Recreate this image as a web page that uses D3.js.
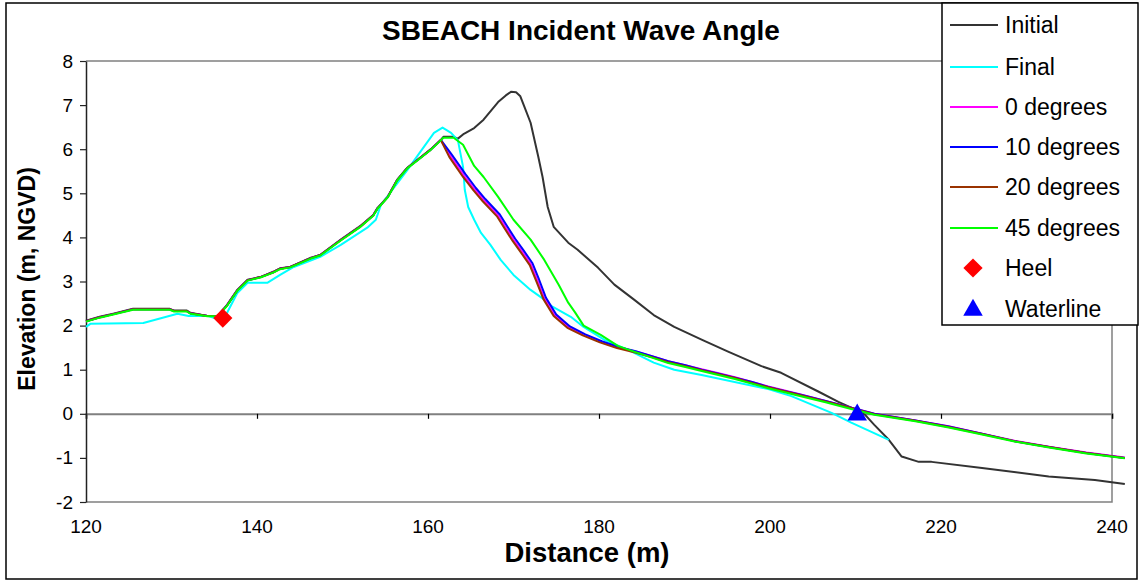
<!DOCTYPE html>
<html>
<head>
<meta charset="utf-8">
<script src="https://cdn.jsdelivr.net/npm/d3@7/dist/d3.min.js"></script>
<style>
  html, body { margin: 0; padding: 0; background: #fff; }
  svg { display: block; font-family: "Liberation Sans", Arial, sans-serif; }
</style>
</head>
<body>
<svg id="chart" width="1139" height="581"></svg>
<script>
// Profile data: [distance (m), elevation (m, NGVD)]
const initialProfile = [
  [120,2.11],[121.6,2.2],[123.2,2.27],[125.5,2.38],[129.8,2.38],[130.3,2.34],[131.8,2.34],
  [132.2,2.29],[134.2,2.22],[135.4,2.22],[136.5,2.47],[137.7,2.81],[138.9,3.04],[140.4,3.1],
  [141.9,3.22],[142.7,3.3],[143.9,3.33],[146.3,3.54],[147.4,3.6],[149.8,3.95],[152.1,4.26],
  [153.6,4.51],[154.1,4.67],[155.3,4.92],[156.4,5.31],[157.6,5.58],[158.8,5.76],[160.3,5.99],
  [161.5,6.21],[161.8,6.28],[163.0,6.28],[163.5,6.24],[164.2,6.35],[165.4,6.48],[166.5,6.67],
  [168.2,7.07],[169.1,7.22],[169.7,7.3],[170.3,7.29],[170.8,7.2],[171.2,7.0],[172.0,6.6],[172.9,5.83],[173.4,5.37],
  [174.0,4.69],[174.7,4.24],[176.4,3.88],[177.5,3.72],[179.9,3.31],[181.8,2.93],[184.1,2.59],
  [186.4,2.24],[188.8,1.97],[192.0,1.68],[195.1,1.41],[199.0,1.08],[201.3,0.93],[205.7,0.5],
  [208.0,0.27],[209.5,0.14],[211.1,-0.02],[212.2,-0.25],[213.9,-0.59],[215.4,-0.97],
  [217.4,-1.09],[218.9,-1.09],[224.8,-1.23],[232.6,-1.42],[238.0,-1.5],[241.5,-1.59]
];

const finalProfile = [
  [120,1.97],[120.5,2.04],[126.7,2.06],[130.7,2.27],[132.0,2.22],[134.2,2.22],[135.4,2.15],
  [136.5,2.29],[137.7,2.74],[138.9,2.97],[141.2,2.97],[142.7,3.15],[144.3,3.33],[147.4,3.56],
  [149.8,3.83],[152.9,4.22],[153.9,4.4],[154.5,4.74],[156.0,5.12],[157.6,5.53],[159.1,5.94],
  [160.7,6.37],[161.7,6.49],[162.7,6.37],[163.5,6.2],[164.1,5.6],[164.3,5.08],[164.7,4.69],
  [165.4,4.4],[166.2,4.1],[167.3,3.83],[168.5,3.49],[170.0,3.15],[172.0,2.81],[173.6,2.59],
  [174.4,2.45],[176.7,2.2],[178.2,1.97],[180.6,1.68],[183.4,1.45],[186.4,1.16],[188.8,1.0],
  [192.0,0.88],[199.8,0.56],[202.5,0.4],[207.2,0.02],[209.5,-0.2],[213.9,-0.59]
];

const deg0Profile = [
  [120,2.1],[121.6,2.19],[123.2,2.26],[125.5,2.37],[129.8,2.37],[130.3,2.33],[131.8,2.33],
  [132.2,2.28],[134.2,2.22],[135.4,2.22],[136.5,2.46],[137.7,2.8],[138.9,3.03],[140.4,3.1],
  [141.9,3.21],[142.7,3.29],[143.9,3.33],[146.3,3.53],[147.4,3.6],[149.8,3.94],[152.1,4.25],
  [153.6,4.5],[154.1,4.66],[155.3,4.92],[156.4,5.3],[157.6,5.58],[158.8,5.76],[160.3,5.99],
  [161.5,6.21],[162.6,5.85],[164.2,5.4],[165.4,5.1],[166.5,4.85],[168.2,4.5],[169.1,4.22],
  [170.0,3.95],[171.0,3.68],[172.0,3.4],[172.8,3.02],[173.6,2.62],[174.8,2.24],[176.4,1.97],
  [178.2,1.8],[180.2,1.63],[182.2,1.51],[184.1,1.42],[186.1,1.31],[188.1,1.19],[190.1,1.1],
  [192.0,1.01],[194.0,0.92],[195.9,0.83],[197.9,0.72],[199.8,0.62],[201.7,0.53],[203.6,0.44],
  [206.5,0.29],[209.5,0.14],[212.2,0.0],[217.0,-0.15],[220.9,-0.28],[224.8,-0.45],
  [228.6,-0.61],[232.8,-0.75],[237.0,-0.88],[241.5,-0.99]
];

const deg10Profile = [
  [120,2.1],[121.6,2.19],[123.2,2.26],[125.5,2.37],[129.8,2.37],[130.3,2.33],[131.8,2.33],
  [132.2,2.28],[134.2,2.22],[135.4,2.22],[136.5,2.46],[137.7,2.8],[138.9,3.03],[140.4,3.1],
  [141.9,3.21],[142.7,3.29],[143.9,3.33],[146.3,3.53],[147.4,3.6],[149.8,3.94],[152.1,4.25],
  [153.6,4.5],[154.1,4.66],[155.3,4.92],[156.4,5.3],[157.6,5.58],[158.8,5.76],[160.3,5.99],
  [161.5,6.21],[162.8,5.87],[164.4,5.43],[165.6,5.12],[166.7,4.87],[168.4,4.52],[169.3,4.24],
  [170.2,3.97],[171.2,3.7],[172.2,3.42],[173.0,3.04],[173.8,2.63],[175.0,2.25],[176.6,1.98],
  [178.4,1.8],[180.4,1.64],[182.4,1.51],[184.3,1.42],[186.1,1.31],[188.1,1.19],[190.1,1.1],
  [192.0,1.0],[194.0,0.91],[195.9,0.82],[197.9,0.72],[199.8,0.61],[201.7,0.52],[203.6,0.43],
  [206.5,0.29],[209.5,0.14],[212.2,0.0],[217.0,-0.15],[220.9,-0.29],[224.8,-0.45],
  [228.6,-0.62],[232.8,-0.76],[237.0,-0.89],[241.5,-1.0]
];

const deg20Profile = [
  [120,2.1],[121.6,2.19],[123.2,2.26],[125.5,2.37],[129.8,2.37],[130.3,2.33],[131.8,2.33],
  [132.2,2.28],[134.2,2.22],[135.4,2.22],[136.5,2.46],[137.7,2.8],[138.9,3.03],[140.4,3.1],
  [141.9,3.21],[142.7,3.29],[143.9,3.33],[146.3,3.53],[147.4,3.6],[149.8,3.94],[152.1,4.25],
  [153.6,4.5],[154.1,4.66],[155.3,4.92],[156.4,5.3],[157.6,5.58],[158.8,5.76],[160.3,5.99],
  [161.5,6.21],[162.5,5.82],[164.1,5.37],[165.3,5.07],[166.4,4.82],[168.1,4.47],[169.0,4.19],
  [169.9,3.92],[170.9,3.65],[171.9,3.37],[172.7,2.99],[173.5,2.6],[174.7,2.22],[176.3,1.95],
  [178.1,1.78],[180.1,1.62],[182.1,1.49],[184.0,1.4],[186.1,1.29],[188.1,1.17],[190.1,1.08],
  [192.0,0.99],[194.0,0.9],[195.9,0.81],[197.9,0.7],[199.8,0.6],[201.7,0.51],[203.6,0.42],
  [206.5,0.28],[209.5,0.13],[212.2,-0.01],[217.0,-0.16],[220.9,-0.3],[224.8,-0.46],
  [228.6,-0.62],[232.8,-0.76],[237.0,-0.89],[241.5,-1.0]
];

const deg45Profile = [
  [120,2.09],[121.6,2.18],[123.2,2.25],[125.5,2.36],[129.8,2.36],[130.3,2.32],[131.8,2.32],
  [132.2,2.27],[134.2,2.21],[135.4,2.21],[136.5,2.45],[137.7,2.79],[138.9,3.02],[140.4,3.09],
  [141.9,3.2],[142.7,3.28],[143.9,3.32],[146.3,3.52],[147.4,3.59],[149.8,3.93],[152.1,4.24],
  [153.6,4.49],[154.1,4.65],[155.3,4.91],[156.4,5.29],[157.6,5.57],[158.8,5.75],[160.3,5.98],
  [161.5,6.2],[161.8,6.26],[163.0,6.26],[164.1,6.1],[165.4,5.62],[166.5,5.37],[168.2,4.92],
  [170.0,4.4],[172.0,3.95],[173.6,3.49],[175.3,2.92],[176.4,2.52],[177.2,2.3],[178.2,2.0],
  [180.2,1.79],[182.2,1.54],[184.1,1.41],[186.1,1.28],[188.1,1.15],[190.1,1.06],[192.0,0.97],
  [195.9,0.79],[199.8,0.58],[203.6,0.4],[206.5,0.26],[209.5,0.11],[212.2,-0.02],[217.0,-0.17],
  [220.9,-0.31],[224.8,-0.47],[228.6,-0.63],[232.8,-0.77],[237.0,-0.9],[241.5,-1.01]
];

const heelPoint = [[136.0, 2.17]];
const waterlinePoint = [[210.2, 0.0]];

const xTicks = [120, 140, 160, 180, 200, 220, 240];
const yTicks = [-2, -1, 0, 1, 2, 3, 4, 5, 6, 7, 8];

const seriesNames = ["Initial", "Final", "0 degrees", "10 degrees", "20 degrees", "45 degrees"];
const seriesColors = ["#333333", "#00FFFF", "#FF00FF", "#0000FF", "#993300", "#00FF00"];
const seriesData = [initialProfile, finalProfile, deg0Profile, deg10Profile, deg20Profile, deg45Profile];

const svg = d3.select("#chart");
const W = 1139, H = 581;
const plot = { left: 86, right: 1112, top: 61, bottom: 502 };

svg.append("rect").attr("width", W).attr("height", H).attr("fill", "#fff");
// outer chart frame
svg.append("rect").attr("x", 6).attr("y", 3).attr("width", 1131).attr("height", 576)
  .attr("fill", "none").attr("stroke", "#000").attr("stroke-width", 1.5);

const x = d3.scaleLinear().domain([120, 240]).range([plot.left, plot.right]);
const y = d3.scaleLinear().domain([-2, 8]).range([plot.bottom, plot.top]);

// plot area frame (top, right, bottom)
svg.append("path")
  .attr("d", `M${plot.left},${plot.top}H${plot.right}V${plot.bottom}H${plot.left}`)
  .attr("fill", "none").attr("stroke", "#808080").attr("stroke-width", 1.5);

// horizontal axis running along zero elevation
const xAxisG = svg.append("g").attr("transform", `translate(0,${y(0)})`)
  .call(d3.axisBottom(x).tickValues(xTicks).tickSize(5).tickFormat(""));
xAxisG.select(".domain").attr("stroke", "#808080").attr("stroke-width", 2);
xAxisG.selectAll(".tick line").attr("stroke", "#000").attr("stroke-width", 1.2);

// distance labels below the plot area
svg.append("g").selectAll("text").data(xTicks).join("text")
  .attr("x", d => x(d)).attr("y", 533)
  .attr("text-anchor", "middle").attr("font-size", 19).attr("fill", "#000")
  .text(d => String(d));

// vertical axis
const yAxisG = svg.append("g").attr("transform", `translate(${plot.left},0)`)
  .call(d3.axisLeft(y).tickValues(yTicks).tickSize(6).tickPadding(7).tickSizeOuter(0)
    .tickFormat(d => String(d)));
yAxisG.select(".domain").attr("stroke", "#222").attr("stroke-width", 1.5);
yAxisG.selectAll(".tick line").attr("stroke", "#222").attr("stroke-width", 1.2);
yAxisG.selectAll(".tick text").attr("font-size", 19).attr("fill", "#000")
  .attr("font-family", "'Liberation Sans', Arial, sans-serif");

// profile lines
const line = d3.line().x(d => x(d[0])).y(d => y(d[1]));
svg.append("g").selectAll("path").data(seriesData).join("path")
  .attr("d", line)
  .attr("fill", "none")
  .attr("stroke", (d, i) => seriesColors[i])
  .attr("stroke-width", 2)
  .attr("stroke-linejoin", "round");

// markers
const diamond = d3.symbol().type(d3.symbolSquare).size(185);
const triangle = d3.symbol().type(d3.symbolTriangle).size(165);

svg.append("g").selectAll("path").data(heelPoint).join("path")
  .attr("d", diamond)
  .attr("transform", d => `translate(${x(d[0])},${y(d[1])}) rotate(45)`)
  .attr("fill", "#FF0000");
svg.append("g").selectAll("path").data(waterlinePoint).join("path")
  .attr("d", triangle)
  .attr("transform", d => `translate(${x(d[0])},${y(d[1]) + 1})`)
  .attr("fill", "#0000FF");

// titles
svg.append("text").attr("x", 581).attr("y", 40).attr("text-anchor", "middle")
  .attr("font-size", 28).attr("font-weight", "bold").text("SBEACH Incident Wave Angle");
svg.append("text").attr("x", 587).attr("y", 562).attr("text-anchor", "middle")
  .attr("font-size", 27.5).attr("font-weight", "bold").text("Distance (m)");
svg.append("text").attr("transform", "translate(35,279) rotate(-90)")
  .attr("text-anchor", "middle")
  .attr("font-size", 23).attr("font-weight", "bold").text("Elevation (m, NGVD)");

// legend
const legend = svg.append("g");
legend.append("rect").attr("x", 942).attr("y", 3).attr("width", 196).attr("height", 322)
  .attr("fill", "#fff").attr("stroke", "#000").attr("stroke-width", 1.5);
const legendY = [25, 67, 107, 147, 187, 228, 268, 309];
const lineItems = legend.selectAll("g.item").data(seriesNames).join("g").attr("class", "item");
lineItems.append("line")
  .attr("x1", 950).attr("x2", 998)
  .attr("y1", (d, i) => legendY[i]).attr("y2", (d, i) => legendY[i])
  .attr("stroke", (d, i) => seriesColors[i]).attr("stroke-width", 2);
lineItems.append("text")
  .attr("x", 1005).attr("y", (d, i) => legendY[i] + 8)
  .attr("font-size", 23).text(d => d);

legend.append("path").attr("d", diamond)
  .attr("transform", `translate(973,${legendY[6]}) rotate(45)`).attr("fill", "#FF0000");
legend.append("text").attr("x", 1005).attr("y", legendY[6] + 8).attr("font-size", 23).text("Heel");
legend.append("path").attr("d", triangle)
  .attr("transform", `translate(973,${legendY[7] + 1})`).attr("fill", "#0000FF");
legend.append("text").attr("x", 1005).attr("y", legendY[7] + 8).attr("font-size", 23).text("Waterline");
</script>
</body>
</html>
